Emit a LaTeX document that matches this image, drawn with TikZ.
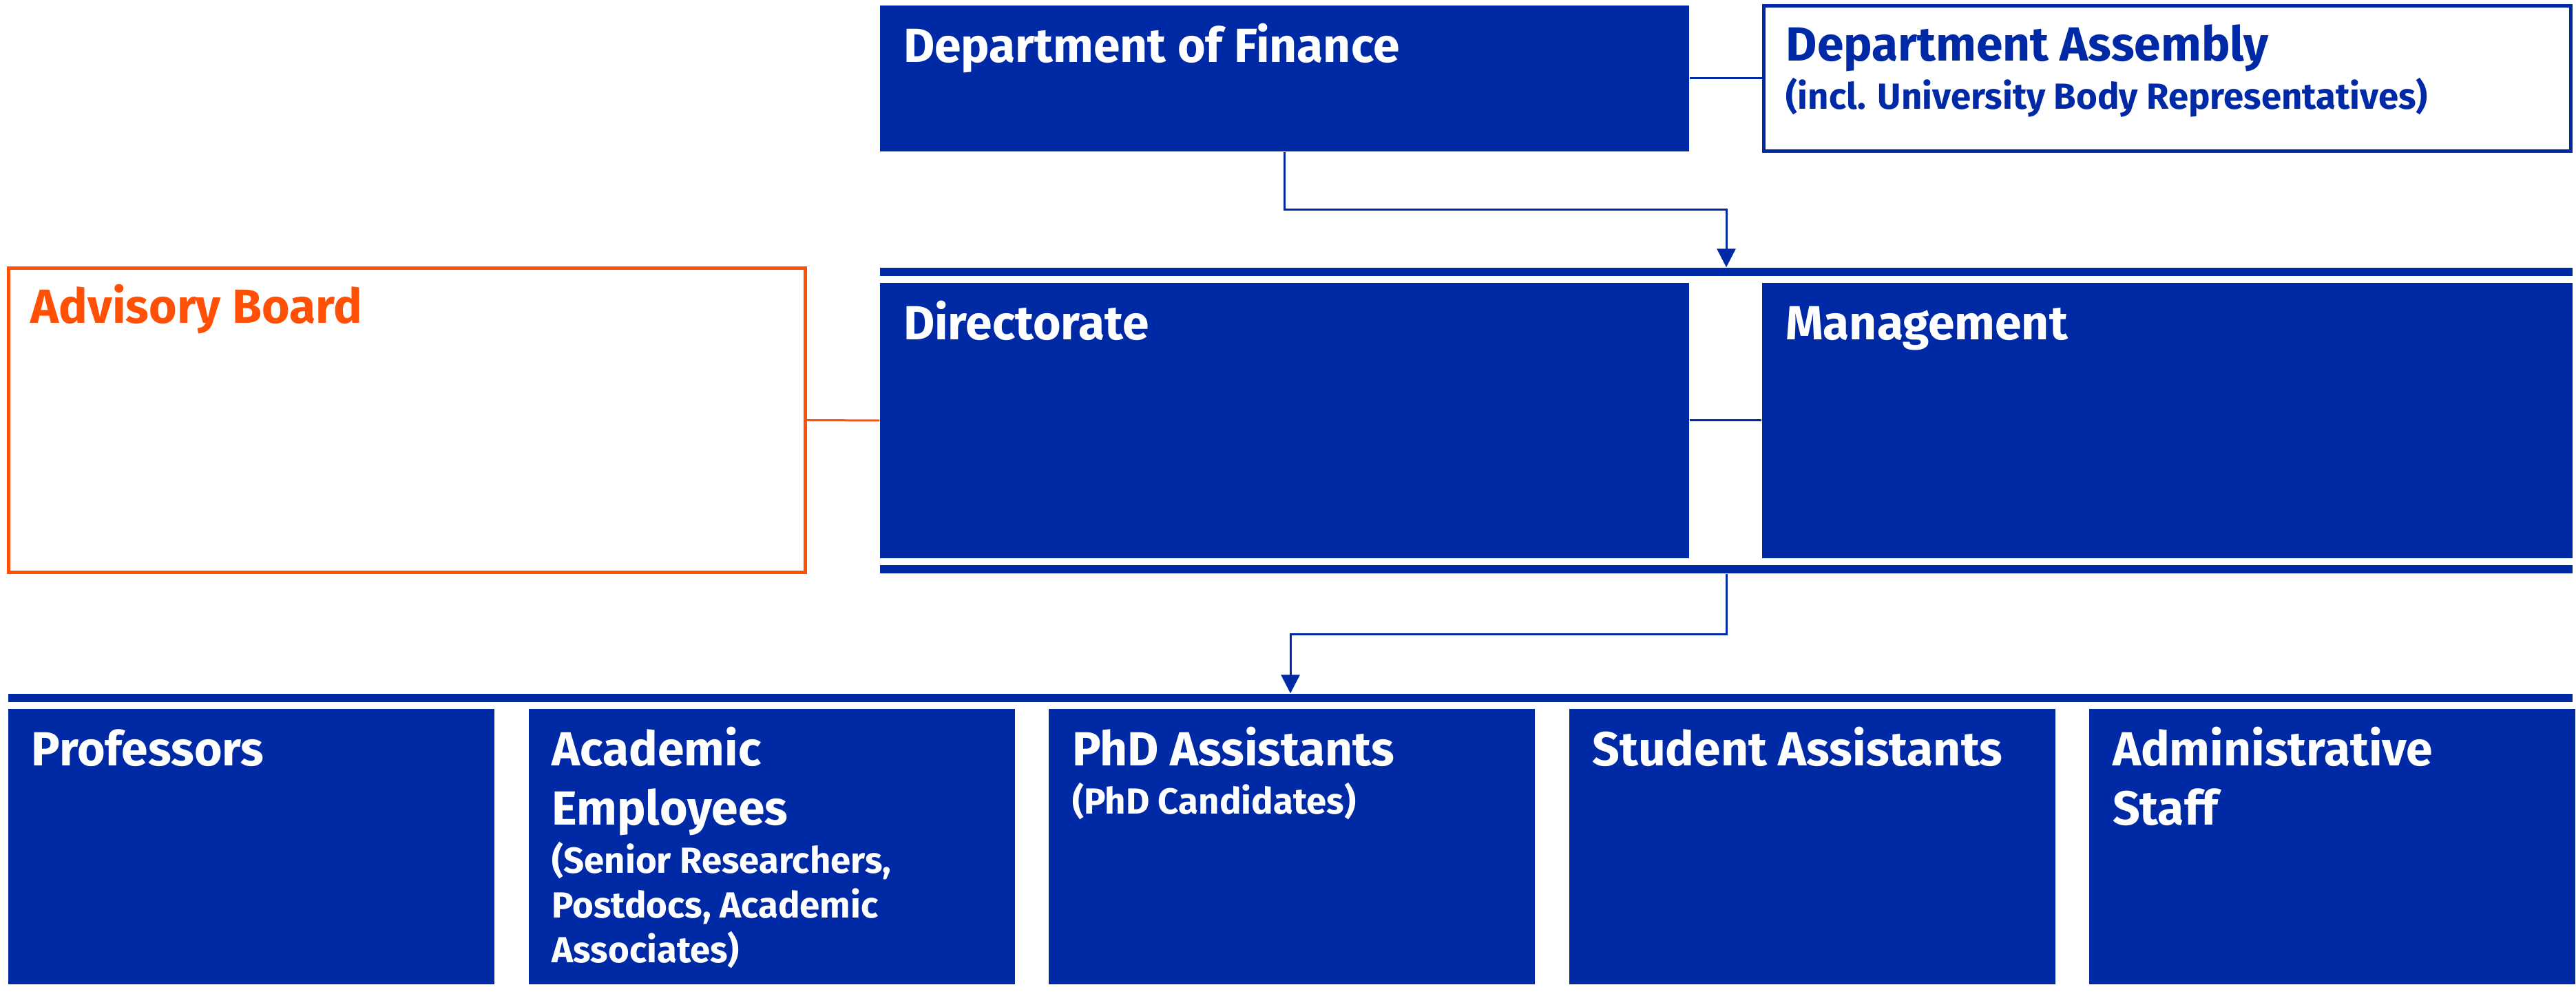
\documentclass[tikz,border=0pt]{standalone}
\usepackage{fontspec}
\setmainfont{Fira Sans}
\usetikzlibrary{arrows.meta}
\definecolor{unblue}{RGB}{0,41,166}
\definecolor{advorange}{RGB}{255,80,5}
\newcommand\headfont{\bfseries\fontsize{19.8pt}{24.47pt}\selectfont}
\newcommand\subfont{\bfseries\fontsize{15pt}{18.49pt}\selectfont}
\tikzset{
  fillbox/.style={fill=unblue, inner sep=0pt},
  linebox/.style={draw=#1, line width=0.05cm, inner sep=0pt},
  splitbar/.style={fill=unblue, inner sep=0pt, minimum height=0.12cm},
  headtext/.style={anchor=base west, inner sep=0pt, align=left, font=\headfont, text=white},
  subtext/.style={anchor=base west, inner sep=0pt, align=left, font=\subfont, text=white},
  link/.style={draw=#1, line width=0.03cm},
  flow/.style={draw=unblue, line width=0.03cm, -{Triangle[width=0.27cm, length=0.27cm]}}
}

\begin{document}
\begin{tikzpicture}
  \useasboundingbox (0,0) rectangle (37.41,14.46);
  % top row
  \node[fillbox, minimum width=11.75cm, minimum height=2.12cm] (dof) at (18.655, 13.32) {};
  \node[headtext] at ([shift={(0.34,-0.83)}]dof.north west) {Department of Finance};
  \node[linebox=unblue, minimum width=11.72cm, minimum height=2.11cm] (da) at (31.475, 13.32) {};
  \node[headtext, text=unblue] at ([shift={(0.34,-0.83)}]da.north west) {Department Assembly};
  \node[subtext, text=unblue] at ([shift={(0.34,-1.53)}]da.north west) {(incl. University Body Representatives)};
  \draw[link=unblue] (dof.east) -- (da.west);

  % directorate and management between two bars
  \node[splitbar, minimum width=24.58cm] (bartop) at (25.07, 10.51) {};
  \node[fillbox, minimum width=11.75cm, minimum height=4cm] (dir) at (18.655, 8.35) {};
  \node[headtext] at ([shift={(0.34,-0.83)}]dir.north west) {Directorate};
  \node[fillbox, minimum width=11.77cm, minimum height=4cm] (mgmt) at (31.475, 8.35) {};
  \node[headtext] at ([shift={(0.34,-0.83)}]mgmt.north west) {Management};
  \node[splitbar, minimum width=24.58cm] (barmid) at (25.07, 6.19) {};
  \draw[link=unblue] (dir.east) -- (mgmt.west);

  % advisory board
  \node[linebox=advorange, minimum width=11.57cm, minimum height=4.42cm] (adv) at (5.91, 8.355) {};
  \node[headtext, text=advorange] at ([shift={(0.34,-0.83)}]adv.north west) {Advisory Board};
  \draw[link=advorange] (adv.east) -- (dir.west);

  \draw[flow] (dof.south) -- ++(0,-0.84) -| (bartop.north);

  % staff row (base anchor sits on the last line)
  \node[splitbar, minimum width=37.24cm] (barlow) at (18.74, 4.32) {};
  \draw[flow] (barmid.south) -- ++(0,-0.88) -| (barlow.north);
  \foreach \i/\drop/\head in {1/0.83/Professors, 2/1.69/{Academic\\Employees}, 3/0.83/PhD Assistants, 4/0.83/Student Assistants, 5/1.69/{Administrative\\Staff}} {
    \node[fillbox, minimum width=7.06cm, minimum height=4cm] (staff\i) at ({3.65+7.555*(\i-1)}, 2.16) {};
    \node[headtext] at ([shift={(0.34,-\drop)}]staff\i.north west) {\head};
  }
  \node[subtext] at ([shift={(0.34,-3.69)}]staff2.north west) {(Senior Researchers,\\Postdocs, Academic\\Associates)};
  \node[subtext] at ([shift={(0.34,-1.53)}]staff3.north west) {(PhD Candidates)};
\end{tikzpicture}
\end{document}
